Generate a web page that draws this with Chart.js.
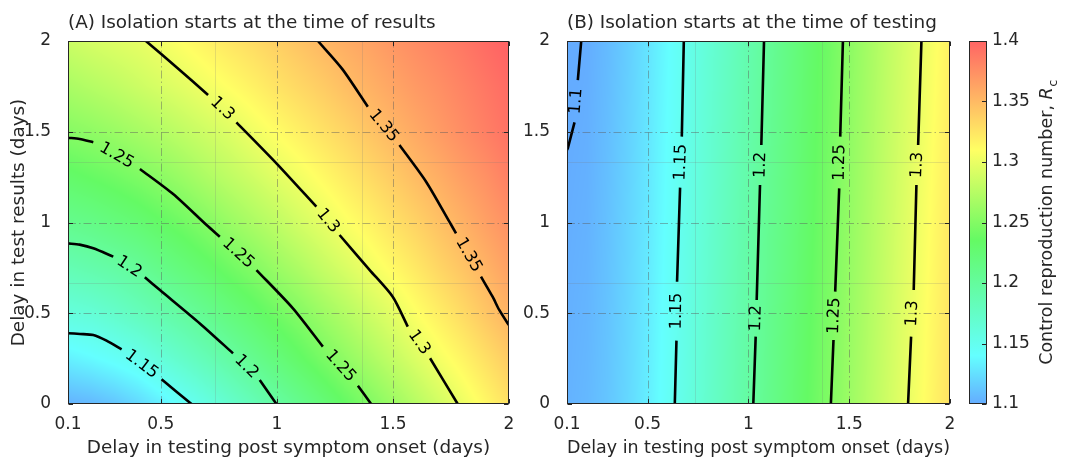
<!DOCTYPE html>
<html><head><meta charset="utf-8">
<script src="https://cdn.jsdelivr.net/npm/chart.js@4.4.1/dist/chart.umd.min.js"></script>
<style>
html,body{margin:0;padding:0;background:#fff;}
#wrap{position:relative;width:1065px;height:460px;overflow:hidden;background:#fff;}
#wrap canvas{position:absolute;left:0;top:0;}
</style></head>
<body><div id="wrap">
<canvas id="cA" width="1065" height="460"></canvas>
<canvas id="cB" width="1065" height="460"></canvas>
<canvas id="cC" width="1065" height="460"></canvas>
</div>
<script>
// ---------------- data ----------------
const xTicks = [0.1, 0.5, 1, 1.5, 2];
const yTicks = [0, 0.5, 1, 1.5, 2];
const cbTicks = [1.1, 1.15, 1.2, 1.25, 1.3, 1.35, 1.4];
const xLabel = 'Delay in testing post symptom onset (days)';
const yLabel = 'Delay in test results (days)';
const titleA = '(A) Isolation starts at the time of results';
const titleB = '(B) Isolation starts at the time of testing';
const cbLabel = 'Control reproduction number, ';

const gridX = [0.1,0.2,0.3,0.4,0.5,0.6,0.7,0.8,0.9,1.0,1.1,1.2,1.3,1.4,1.5,1.6,1.7,1.8,1.9,2.0];
const gridYA = [0,0.25,0.5,0.75,1,1.25,1.5,1.75,2];
const rcA_y000 = [1.103,1.106,1.112,1.121,1.132,1.145,1.158,1.171,1.184,1.197,1.210,1.223,1.236,1.249,1.262,1.275,1.288,1.301,1.314,1.327];
const rcA_y025 = [1.133,1.138,1.144,1.151,1.163,1.174,1.185,1.197,1.209,1.221,1.233,1.245,1.257,1.269,1.281,1.293,1.305,1.316,1.328,1.340];
const rcA_y050 = [1.161,1.165,1.172,1.181,1.190,1.199,1.209,1.220,1.230,1.241,1.251,1.263,1.274,1.286,1.297,1.309,1.320,1.331,1.343,1.354];
const rcA_y075 = [1.186,1.191,1.196,1.203,1.213,1.222,1.231,1.241,1.250,1.261,1.271,1.282,1.292,1.303,1.313,1.323,1.334,1.344,1.354,1.365];
const rcA_y100 = [1.210,1.214,1.220,1.226,1.234,1.242,1.251,1.261,1.270,1.279,1.289,1.298,1.308,1.317,1.327,1.336,1.346,1.355,1.365,1.374];
const rcA_y125 = [1.231,1.236,1.241,1.247,1.254,1.262,1.271,1.279,1.287,1.296,1.304,1.313,1.322,1.331,1.340,1.349,1.357,1.366,1.374,1.384];
const rcA_y150 = [1.252,1.256,1.261,1.267,1.273,1.280,1.287,1.294,1.303,1.311,1.319,1.327,1.335,1.344,1.352,1.360,1.368,1.376,1.384,1.392];
const rcA_y175 = [1.269,1.274,1.279,1.285,1.291,1.297,1.304,1.311,1.318,1.326,1.333,1.340,1.348,1.355,1.362,1.369,1.375,1.382,1.389,1.396];
const rcA_y200 = [1.285,1.290,1.294,1.298,1.304,1.311,1.318,1.325,1.331,1.338,1.345,1.352,1.358,1.364,1.371,1.377,1.383,1.389,1.396,1.402];

const gridYB = [0,1,2];
const rcB_y0 = [1.103,1.106,1.112,1.121,1.132,1.145,1.158,1.171,1.184,1.197,1.210,1.223,1.236,1.249,1.262,1.275,1.288,1.301,1.314,1.327];
const rcB_y1 = [1.101,1.103,1.110,1.119,1.129,1.142,1.155,1.168,1.181,1.194,1.207,1.219,1.232,1.245,1.258,1.271,1.284,1.297,1.310,1.323];
const rcB_y2 = [1.0985,1.1005,1.107,1.116,1.127,1.139,1.152,1.165,1.177,1.190,1.203,1.216,1.229,1.241,1.254,1.267,1.280,1.292,1.305,1.318];

// contour paths, null = label gap
const contourA_115 = [[0.1,0.39],[0.152,0.386],[0.209,0.380],[0.266,0.349],[0.331,0.301],null,[0.503,0.136],[0.632,0]];
const contourA_120 = [[0.1,0.885],[0.15,0.878],[0.209,0.858],[0.295,0.812],null,[0.431,0.698],[0.496,0.628],[0.668,0.444],[0.811,0.279],null,[0.926,0.132],[0.998,0]];
const contourA_125 = [[0.1,1.467],[0.15,1.460],[0.209,1.442],null,[0.41,1.295],[0.553,1.157],[0.697,0.986],[0.754,0.922],null,[0.912,0.738],[1.069,0.527],[1.198,0.316],null,[1.349,0.101],[1.406,0]];
const contourA_130 = [[0.4355,2],[0.57,1.853],[0.7035,1.7025],null,[0.8256,1.552],[0.998,1.326],[1.17,1.087],null,[1.27,0.931],[1.40,0.738],[1.499,0.591],[1.564,0.426],null,[1.66,0.252],[1.779,0]];
const contourA_135 = [[1.1766,2],[1.282,1.845],[1.3916,1.638],null,[1.528,1.427],[1.6428,1.2248],[1.743,1.0045],[1.7718,0.9403],null,[1.8793,0.7014],[1.9293,0.591],[1.958,0.518],[1.994,0.4446],[2,0.435]];

const contourB_110 = [[0.1706,2],[0.1537,1.785],null,[0.1373,1.552],[0.104,1.409],[0.1,1.40]];
const contourB_115 = [[0.6795,2],[0.6695,1.473],null,[0.661,1.192],[0.646,0.674],null,[0.643,0.349],[0.6347,0]];
const contourB_120 = [[1.0774,2],[1.064,1.427],null,[1.0575,1.2066],[1.041,0.573],null,[1.036,0.371],[1.0242,0]];
const contourB_125 = [[1.4688,2],[1.4554,1.473],null,[1.4504,1.188],[1.4305,0.619],null,[1.422,0.3526],[1.409,0]];
const contourB_130 = [[1.8583,2],[1.842,1.427],null,[1.8334,1.2066],[1.82,0.628],null,[1.807,0.371],[1.792,0]];

const levelsA = ['1.15','1.2','1.25','1.3','1.35'];
const levelsB = ['1.1','1.15','1.2','1.25','1.3'];

// colormap
const cmapVals = [1.10, 1.14, 1.235, 1.31, 1.40];
const cmapRGB = [[100,172,255],[100,255,255],[100,250,100],[255,255,100],[255,100,100]];

// ---------------- drawing helpers ----------------
const FONT = "'DejaVu Sans', 'Liberation Sans', sans-serif";
const TXT = '#262626';
Chart.defaults.font.family = FONT;
Chart.defaults.color = TXT;

function cmap(v) {
  if (v <= cmapVals[0]) return cmapRGB[0];
  const n = cmapVals.length;
  if (v >= cmapVals[n-1]) return cmapRGB[n-1];
  for (let k = 0; k < n-1; k++) {
    if (v <= cmapVals[k+1]) {
      const t = (v - cmapVals[k]) / (cmapVals[k+1] - cmapVals[k]);
      const a = cmapRGB[k], b = cmapRGB[k+1];
      return [a[0]+(b[0]-a[0])*t, a[1]+(b[1]-a[1])*t, a[2]+(b[2]-a[2])*t];
    }
  }
  return cmapRGB[n-1];
}

function drawField(chart, gx, gy, rows) {
  const {ctx, chartArea: a} = chart;
  const xs = chart.scales.x, ys = chart.scales.y;
  const L = Math.round(a.left), T = Math.round(a.top);
  const W = Math.round(a.right) - L, H = Math.round(a.bottom) - T;
  const off = document.createElement('canvas'); off.width = W; off.height = H;
  const octx = off.getContext('2d');
  const img = octx.createImageData(W, H); const d = img.data;
  const nx = gx.length, ny = gy.length;
  const ix = new Int32Array(W), fx = new Float64Array(W);
  for (let i = 0; i < W; i++) {
    const v = xs.getValueForPixel(L + i + 0.5);
    let t = (v - gx[0]) / (gx[1] - gx[0]);
    t = Math.max(0, Math.min(nx - 1 - 1e-9, t));
    ix[i] = Math.floor(t); fx[i] = t - ix[i];
  }
  for (let j = 0; j < H; j++) {
    const v = ys.getValueForPixel(T + j + 0.5);
    let t = (v - gy[0]) / (gy[1] - gy[0]);
    t = Math.max(0, Math.min(ny - 1 - 1e-9, t));
    const jy = Math.floor(t), fy = t - jy;
    const r0 = rows[jy], r1 = rows[jy+1];
    for (let i = 0; i < W; i++) {
      const k = ix[i], f = fx[i];
      const a0 = r0[k] + (r0[k+1] - r0[k]) * f;
      const a1 = r1[k] + (r1[k+1] - r1[k]) * f;
      const c = cmap(a0 + (a1 - a0) * fy);
      const p = (j * W + i) * 4;
      d[p] = c[0]; d[p+1] = c[1]; d[p+2] = c[2]; d[p+3] = 255;
    }
  }
  octx.putImageData(img, 0, 0);
  ctx.drawImage(off, L, T);
}

function drawGrid(chart) {
  const {ctx, chartArea: a} = chart;
  const xs = chart.scales.x, ys = chart.scales.y;
  ctx.save();
  ctx.strokeStyle = 'rgba(120,120,120,0.2)'; ctx.lineWidth = 1;
  for (const f of [1/3, 2/3]) {
    const px = Math.round(xs.getPixelForValue(xs.min + (xs.max - xs.min) * f)) + 0.5;
    const py = Math.round(ys.getPixelForValue(ys.min + (ys.max - ys.min) * f)) + 0.5;
    ctx.beginPath(); ctx.moveTo(px, a.top); ctx.lineTo(px, a.bottom); ctx.stroke();
    ctx.beginPath(); ctx.moveTo(a.left, py); ctx.lineTo(a.right, py); ctx.stroke();
  }
  ctx.strokeStyle = 'rgba(90,90,90,0.45)';
  ctx.setLineDash([8, 3, 1.5, 3]);
  for (const v of xTicks) {
    if (v === xs.min || v === xs.max) continue;
    const px = Math.round(xs.getPixelForValue(v)) + 0.5;
    ctx.beginPath(); ctx.moveTo(px, a.bottom); ctx.lineTo(px, a.top); ctx.stroke();
  }
  for (const v of yTicks) {
    if (v === ys.min || v === ys.max) continue;
    const py = Math.round(ys.getPixelForValue(v)) + 0.5;
    ctx.beginPath(); ctx.moveTo(a.left, py); ctx.lineTo(a.right, py); ctx.stroke();
  }
  ctx.restore();
}

function drawFrame(chart) {
  const {ctx, chartArea: a} = chart;
  const xs = chart.scales.x, ys = chart.scales.y;
  ctx.save();
  ctx.strokeStyle = TXT; ctx.lineWidth = 1;
  const L = Math.round(a.left) + 0.5, R = Math.round(a.right) - 0.5;
  const T = Math.round(a.top) + 0.5, B = Math.round(a.bottom) - 0.5;
  ctx.strokeRect(L, T, R - L, B - T);
  const tl = 4.5;
  ctx.beginPath();
  for (const v of xTicks) {
    const px = Math.round(xs.getPixelForValue(v)) + 0.5;
    ctx.moveTo(px, B); ctx.lineTo(px, B - tl);
    ctx.moveTo(px, T); ctx.lineTo(px, T + tl);
  }
  for (const v of yTicks) {
    const py = Math.round(ys.getPixelForValue(v)) + 0.5;
    ctx.moveTo(L, py); ctx.lineTo(L + tl, py);
    ctx.moveTo(R, py); ctx.lineTo(R - tl, py);
  }
  ctx.stroke();
  ctx.restore();
}

function drawLabels(chart, contours) {
  const {ctx} = chart;
  const xs = chart.scales.x, ys = chart.scales.y;
  ctx.save();
  ctx.fillStyle = '#000';
  ctx.font = '16.5px ' + FONT;
  ctx.textAlign = 'center'; ctx.textBaseline = 'middle';
  for (const c of contours) {
    const p = c.pts;
    for (let k = 1; k < p.length - 1; k++) {
      if (p[k] !== null) continue;
      const A = p[k-1], B = p[k+1];
      const ax = xs.getPixelForValue(A[0]), ay = ys.getPixelForValue(A[1]);
      const bx = xs.getPixelForValue(B[0]), by = ys.getPixelForValue(B[1]);
      let ang = Math.atan2(by - ay, bx - ax);
      if (ang > Math.PI / 2) ang -= Math.PI;
      if (ang <= -Math.PI / 2) ang += Math.PI;
      ctx.save();
      ctx.translate((ax + bx) / 2, (ay + by) / 2);
      ctx.rotate(ang);
      ctx.fillText(c.level, 0, 0);
      ctx.restore();
    }
  }
  ctx.restore();
}

function makePanelPlugin(spec) {
  return {
    id: 'panel' + spec.key,
    beforeDatasetsDraw(chart) {
      drawField(chart, spec.gx, spec.gy, spec.rows);
      drawGrid(chart);
    },
    afterDatasetsDraw(chart) {
      drawLabels(chart, spec.contours);
      drawFrame(chart);
    },
    afterDraw(chart) {
      const ctx = chart.ctx;
      ctx.save();
      ctx.fillStyle = TXT;
      ctx.font = '18.4px ' + FONT;
      ctx.textAlign = 'left'; ctx.textBaseline = 'alphabetic';
      ctx.fillText(spec.title, chart.chartArea.left, 28);
      ctx.restore();
    }
  };
}

function contourDatasets(contours, tension) {
  return contours.map(c => ({
    data: c.pts.map(p => p ? {x: p[0], y: p[1]} : {x: null, y: null}),
    borderColor: '#000', borderWidth: 2.6, pointRadius: 0, pointHoverRadius: 0,
    spanGaps: false, fill: false, tension: tension, borderCapStyle: 'butt'
  }));
}

function panelOptions(padLeft, padRight, yWidth, showYTitle) {
  return {
    responsive: false, animation: false, events: [], devicePixelRatio: 1,
    layout: {padding: {left: padLeft, top: 41, right: padRight, bottom: 0}},
    plugins: {legend: {display: false}, tooltip: {enabled: false}, title: {display: false}},
    scales: {
      x: {
        type: 'linear', min: 0.1, max: 2,
        afterBuildTicks: s => { s.ticks = xTicks.map(v => ({value: v})); },
        afterFit: s => { s.height = 56; },
        grid: {display: false, drawTicks: false, tickLength: 0}, border: {display: false},
        ticks: {padding: 10, maxRotation: 0, minRotation: 0, autoSkip: false, color: TXT,
                font: {size: 17}, callback: v => String(v)},
        title: {display: true, text: xLabel, color: TXT, font: {size: 18.4}, padding: {top: 0, bottom: 1}}
      },
      y: {
        type: 'linear', min: 0, max: 2,
        afterBuildTicks: s => { s.ticks = yTicks.map(v => ({value: v})); },
        afterFit: s => { s.width = yWidth; },
        grid: {display: false, drawTicks: false, tickLength: 0}, border: {display: false},
        ticks: {padding: 17, autoSkip: false, color: TXT, font: {size: 17}, callback: v => String(v)},
        title: {display: showYTitle, text: yLabel, color: TXT, font: {size: 18.4}, padding: {top: 8, bottom: 0}}
      }
    }
  };
}

// ---------------- panel A ----------------
const contoursA = [contourA_115, contourA_120, contourA_125, contourA_130, contourA_135]
  .map((pts, i) => ({level: levelsA[i], pts}));
const rcA = [rcA_y000, rcA_y025, rcA_y050, rcA_y075, rcA_y100, rcA_y125, rcA_y150, rcA_y175, rcA_y200];
new Chart(document.getElementById('cA'), {
  type: 'line',
  data: {datasets: contourDatasets(contoursA, 0.25)},
  options: panelOptions(0, 1065 - 509, 68, true),
  plugins: [makePanelPlugin({key: 'A', title: titleA, gx: gridX, gy: gridYA, rows: rcA, contours: contoursA})]
});

// ---------------- panel B ----------------
const contoursB = [contourB_110, contourB_115, contourB_120, contourB_125, contourB_130]
  .map((pts, i) => ({level: levelsB[i], pts}));
const rcB = [rcB_y0, rcB_y1, rcB_y2];
new Chart(document.getElementById('cB'), {
  type: 'line',
  data: {datasets: contourDatasets(contoursB, 0)},
  options: panelOptions(500, 1065 - 950, 67, false),
  plugins: [makePanelPlugin({key: 'B', title: titleB, gx: gridX, gy: gridYB, rows: rcB, contours: contoursB})]
});

// ---------------- colorbar ----------------
const colorbarPlugin = {
  id: 'colorbar',
  beforeDatasetsDraw(chart) {
    const {ctx, chartArea: a} = chart;
    const ys = chart.scales.y;
    const y0 = ys.getPixelForValue(ys.min), y1 = ys.getPixelForValue(ys.max);
    const g = ctx.createLinearGradient(0, y0, 0, y1);
    cmapVals.forEach((v, i) => {
      const c = cmapRGB[i];
      g.addColorStop((v - ys.min) / (ys.max - ys.min), `rgb(${c[0]},${c[1]},${c[2]})`);
    });
    ctx.save();
    ctx.fillStyle = g;
    ctx.fillRect(a.left, a.top, a.right - a.left, a.bottom - a.top);
    ctx.restore();
  },
  afterDraw(chart) {
    const {ctx, chartArea: a} = chart;
    const ys = chart.scales.y;
    ctx.save();
    ctx.strokeStyle = TXT; ctx.lineWidth = 1;
    const L = Math.round(a.left) + 0.5, R = Math.round(a.right) - 0.5;
    const T = Math.round(a.top) + 0.5, B = Math.round(a.bottom) - 0.5;
    ctx.strokeRect(L, T, R - L, B - T);
    ctx.beginPath();
    for (const v of cbTicks) {
      const py = Math.round(ys.getPixelForValue(v)) + 0.5;
      ctx.moveTo(R, py); ctx.lineTo(R - 4.5, py);
    }
    ctx.stroke();
    const fMain = '17.5px ' + FONT, fIt = 'italic 17.5px ' + FONT, fSub = '13px ' + FONT;
    ctx.font = fMain; const w1 = ctx.measureText(cbLabel).width;
    ctx.font = fIt; const w2 = ctx.measureText('R').width;
    ctx.font = fSub; const w3 = ctx.measureText('c').width;
    const total = w1 + w2 + w3;
    ctx.translate(1052, (a.top + a.bottom) / 2);
    ctx.rotate(-Math.PI / 2);
    ctx.fillStyle = TXT; ctx.textAlign = 'left'; ctx.textBaseline = 'alphabetic';
    let x = -total / 2;
    ctx.font = fMain; ctx.fillText(cbLabel, x, 0); x += w1;
    ctx.font = fIt; ctx.fillText('R', x, 0); x += w2;
    ctx.font = fSub; ctx.fillText('c', x + 0.5, 5);
    ctx.restore();
  }
};
new Chart(document.getElementById('cC'), {
  type: 'line',
  data: {datasets: []},
  options: {
    responsive: false, animation: false, events: [], devicePixelRatio: 1,
    layout: {padding: {left: 969, top: 41, right: 0, bottom: 56}},
    plugins: {legend: {display: false}, tooltip: {enabled: false}},
    scales: {
      x: {type: 'linear', display: false, min: 0, max: 1},
      y: {
        type: 'linear', position: 'right', min: 1.1, max: 1.4,
        afterBuildTicks: s => { s.ticks = cbTicks.map(v => ({value: v})); },
        afterFit: s => { s.width = 1065 - 987; },
        grid: {display: false, drawTicks: false, tickLength: 0}, border: {display: false},
        ticks: {padding: 5, autoSkip: false, color: TXT, font: {size: 17}, callback: v => String(v)}
      }
    }
  },
  plugins: [colorbarPlugin]
});
</script>
</body></html>
